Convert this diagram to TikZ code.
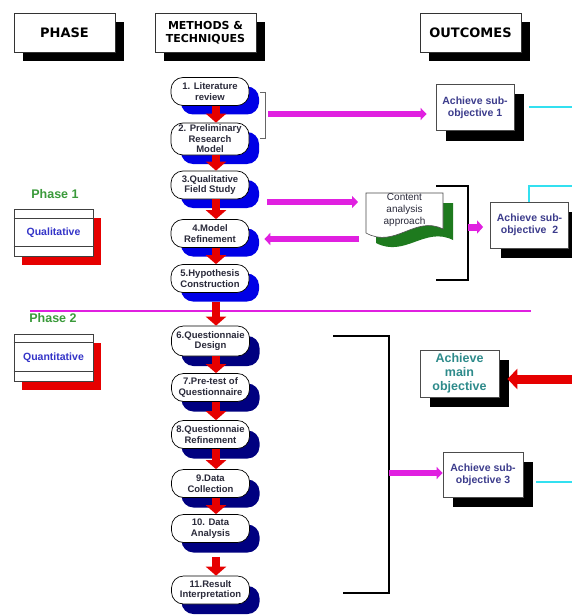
\documentclass[tikz,border=0pt]{standalone}
\usepackage{fontspec}
\setmainfont{Liberation Sans}
\newfontfamily\hdrfont{DejaVu Sans}
\usetikzlibrary{arrows.meta,shadows}
\definecolor{magc}{HTML}{E020E0}
\definecolor{cyanc}{HTML}{33E0F0}
\definecolor{blueshadow}{HTML}{0000E6}
\definecolor{navyshadow}{HTML}{000080}
\definecolor{redc}{HTML}{E60000}
\definecolor{greenc}{HTML}{1E7A1E}
\definecolor{phgreen}{HTML}{3A9A3A}
\definecolor{subtext}{HTML}{3C3C8C}
\definecolor{qualtext}{HTML}{3434C8}
\definecolor{maintext}{HTML}{2E8B8B}
\definecolor{proctext}{HTML}{2A2A3A}
\tikzset{
 hdr/.style={draw=black!80, line width=0.8pt, fill=white, minimum width=101pt, minimum height=39pt, inner sep=0pt, align=center, font=\hdrfont\bfseries\fontsize{11}{13}\selectfont, drop shadow={shadow xshift=9pt, shadow yshift=-9pt, fill=black, opacity=1}},
 proc/.style={draw=black, line width=0.7pt, fill=white, rounded corners=12pt, minimum width=78pt, minimum height=28pt, inner sep=0pt, align=center, text=proctext, font=\fontsize{9.5}{10.5}\selectfont\bfseries},
 procA/.style={proc, drop shadow={shadow xshift=10pt, shadow yshift=-9pt, fill=blueshadow, opacity=1}},
 procB/.style={proc, drop shadow={shadow xshift=10pt, shadow yshift=-10pt, fill=navyshadow, opacity=1}},
 outbox/.style={draw=black!70, line width=0.8pt, fill=white, minimum width=78pt, minimum height=46pt, inner sep=0pt, align=center, text=subtext, font=\fontsize{10.5}{12}\selectfont\bfseries, drop shadow={shadow xshift=10pt, shadow yshift=-10pt, fill=black, opacity=1}},
 phbox/.style={draw=black!75, line width=0.8pt, fill=white, minimum width=79pt, minimum height=47pt, inner sep=0pt, text=qualtext, font=\fontsize{10.5}{12}\selectfont\bfseries, drop shadow={shadow xshift=8pt, shadow yshift=-9pt, fill=redc, opacity=1}},
 phlabel/.style={text=phgreen, font=\fontsize{12.5}{14}\selectfont\bfseries},
 downarrow/.style={draw=redc, line width=8pt, -{Triangle[width=20pt,length=9pt]}},
 magarrow/.style={draw=magc, line width=6pt, -{Triangle[width=12pt,length=6pt]}},
 cyanline/.style={draw=cyanc, line width=2pt},
 bracket/.style={draw=black, line width=1.5pt},
}
\begin{document}
\begin{tikzpicture}[x=1pt,y=-1pt]
\useasboundingbox[fill=white] (0,0) rectangle (572,615);
\coordinate (ax) at (216,0);
\coordinate (redge) at (572,0);

% headers
\node[hdr, font=\hdrfont\bfseries\fontsize{13}{15}\selectfont] (phase) at (64.5,32.5) {PHASE};
\node[hdr] (methods) at (205.5,32.5) {METHODS \&\\TECHNIQUES};
\node[hdr, font=\hdrfont\bfseries\fontsize{13}{15}\selectfont] (outcomes) at (470.5,32.5) {OUTCOMES};

% phase divider
\coordinate (divL) at (30,311);
\coordinate (divR) at (531,311);
\draw[magc, line width=2pt] (divL) -- (divR);

% left phase boxes
\node[phlabel] (ph1) at (55,194) {Phase 1};
\node[phbox] (qual) at (53.5,232.5) {Qualitative};
\draw[black!75, line width=0.8pt] ([yshift=-10pt]qual.north west) -- ([yshift=-10pt]qual.north east);
\draw[black!75, line width=0.8pt] ([yshift=10pt]qual.south west) -- ([yshift=10pt]qual.south east);
\node[phlabel] (ph2) at (53,318) {Phase 2};
\node[phbox] (quant) at (53.5,357.5) {Quantitative};
\draw[black!75, line width=0.8pt] ([yshift=-9pt]quant.north west) -- ([yshift=-9pt]quant.north east);
\draw[black!75, line width=0.8pt] ([yshift=10pt]quant.south west) -- ([yshift=10pt]quant.south east);

% process nodes
\node[procA] (n1) at (210,91.5) {1. Literature\\review};
\node[procA, minimum height=32pt] (n2) at (210,139) {2. Preliminary\\Research\\Model};
\node[procA] (n3) at (210,185) {3.Qualitative\\Field Study};
\node[procA] (n4) at (210,233.5) {4.Model\\Refinement};
\node[procA] (n5) at (210,278.5) {5.Hypothesis\\Construction};
\node[procB, minimum height=30pt] (n6) at (210.5,341) {6.Questionnaie\\Design};
\node[procB] (n7) at (210.5,387.5) {7.Pre-test of\\Questionnaire};
\node[procB] (n8) at (210.5,434.5) {8.Questionnaie\\Refinement};
\node[procB] (n9) at (210.5,483.5) {9.Data\\Collection};
\node[procB] (n10) at (210.5,528.5) {10. Data\\Analysis};
\node[procB] (n11) at (210.5,590) {11.Result\\Interpretation};

% red down arrows
\draw[downarrow] (n1.south -| ax) -- (n2.north -| ax);
\draw[downarrow] (n2.south -| ax) -- (n3.north -| ax);
\draw[downarrow] (n3.south -| ax) -- (n4.north -| ax);
\draw[downarrow] (n4.south -| ax) -- (n5.north -| ax);
\draw[downarrow, shorten <=9pt] (n5.south -| ax) -- (n6.north -| ax);
\draw[downarrow] (n6.south -| ax) -- (n7.north -| ax);
\draw[downarrow] (n7.south -| ax) -- (n8.north -| ax);
\draw[downarrow] (n8.south -| ax) -- (n9.north -| ax);
\draw[downarrow] (n9.south -| ax) -- (n10.north -| ax);
\draw[downarrow, shorten <=14pt] (n10.south -| ax) -- (n11.north -| ax);

% outcome boxes
\node[outbox] (sub1) at (475,107.5) {Achieve sub-\\objective 1};
\node[outbox] (sub2) at (529.5,225) {Achieve sub-\\objective~~2};
\node[outbox, minimum width=80pt, minimum height=45pt] (sub3) at (483,474.5) {Achieve sub-\\objective 3};
\node[outbox, minimum width=79pt, minimum height=47pt, text=maintext, font=\fontsize{12.5}{14}\selectfont\bfseries] (main) at (459.5,373.5) {Achieve\\main\\objective};

% bracket 1 and arrow to sub-objective 1
\coordinate (b1t) at (260,92);
\coordinate (b1b) at (260,138);
\coordinate (b1m) at (265,114);
\draw[black!60, line width=0.8pt] (b1t) -- ++(5,0) -- ([xshift=5pt]b1b) -- (b1b);
\draw[magarrow, shorten <=3pt, shorten >=9pt] (b1m) -- (b1m -| sub1.west);

% content analysis document
\fill[greenc] (376,203) -- (453,203) -- (453,240) .. controls (425,226) and (405,258) .. (376,243) -- cycle;
\filldraw[fill=white, draw=black!70, line width=0.6pt] (366,193) -- (443,193) -- (443,229) .. controls (415,215) and (395,249) .. (366,233) -- cycle;
\node[align=center, text=proctext, font=\fontsize{10}{12}\selectfont, inner sep=0pt] (content) at (404.5,210) {Content\\analysis\\approach};
\coordinate (c3) at (358,202);
\coordinate (c4) at (359,239);
\draw[magarrow, shorten <=18pt] (n3.east |- c3) -- (c3);
\draw[magarrow, shorten >=15pt] (c4) -- (n4.east |- c4);

% bracket 2 and arrow to sub-objective 2
\coordinate (b2t) at (436,186);
\coordinate (b2b) at (436,280);
\coordinate (b2m) at (468,227);
\draw[bracket] (b2t) -- (b2t -| b2m) -- (b2b -| b2m) -- (b2b);
\draw[magarrow, line width=7pt, -{Triangle[width=13pt,length=6pt]}, shorten >=7pt] (b2m) -- (b2m -| sub2.west);

% bracket 3 and arrow to sub-objective 3
\coordinate (b3t) at (333,336);
\coordinate (b3b) at (343,593);
\coordinate (b3m) at (389,473);
\draw[bracket] (b3t) -- (b3t -| b3m) -- (b3b -| b3m) -- (b3b);
\draw[magarrow] (b3m) -- (b3m -| sub3.west);

% cyan lines to the right edge
\draw[cyanline] ([xshift=15pt]sub1.east) -- (sub1.east -| redge);
\coordinate (c2k) at (529,186);
\draw[cyanline] (sub2.north -| c2k) -- (c2k) -- (c2k -| redge);
\draw[cyanline] ([xshift=13pt,yshift=-7.5pt]sub3.east) -- ([yshift=-7.5pt]sub3.east -| redge);

% red arrow into main objective
\coordinate (mainin) at ([xshift=8pt,yshift=-5.5pt]main.east);
\draw[redc, line width=9pt, -{Triangle[width=20pt,length=10pt]}] (mainin -| redge) -- (mainin);
\end{tikzpicture}
\end{document}
